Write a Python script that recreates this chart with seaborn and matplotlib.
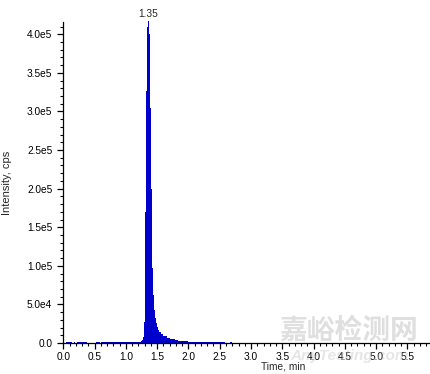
import matplotlib
matplotlib.use("Agg")
import matplotlib.pyplot as plt
import numpy as np
import pandas as pd
import seaborn as sns
from matplotlib.ticker import MultipleLocator, FuncFormatter

# ---- data: chromatogram bins (time, min) and intensity (cps) per bin ----
bin_edges = [0.000, 0.043, 0.139, 0.176, 0.190, 0.219, 0.379, 0.518, 0.587, 0.603,
             1.235, 1.251, 1.267, 1.283, 1.299, 1.315, 1.331, 1.347, 1.363, 1.379,
             1.395, 1.411, 1.427, 1.443, 1.459, 1.475, 1.491, 1.507, 1.523, 1.555,
             1.587, 1.651, 1.699, 1.779, 1.827, 1.987, 2.587, 2.667, 2.699, 5.860]
intensity = [0, 1500, 0, 1500, 0, 1500, 0, 1500, 0, 1500,
             2500, 4000, 8000, 27000, 170000, 326000, 410000, 417000, 400000,
             305000, 200000, 97000, 62000, 43000, 32000, 26000, 21000, 17000,
             14000, 12000, 9000, 6500, 5000, 4000, 3000, 1700, 0, 1500, 0]
peak_time = 1.35
peak_label = "1.35"
x_label = "Time, min"
y_label = "Intensity, cps"

edges = np.array(bin_edges)
mids = (edges[:-1] + edges[1:]) / 2
df = pd.DataFrame({"time": mids, "intensity": intensity})

sns.set_style("white")
plt.rcParams["font.family"] = ["Liberation Sans", "DejaVu Sans"]

W, H = 430, 374
fig = plt.figure(figsize=(W / 100, H / 100), dpi=100)
ax_l, ax_b, ax_t = 63.3, 343.0, 22.3
ax = fig.add_axes([ax_l / W, (H - ax_b) / H, (W - ax_l) / W, (ax_b - ax_t) / H])

blue = "#0000CD"
sns.histplot(data=df, x="time", weights="intensity", bins=list(bin_edges),
             element="step", fill=True, color=blue, alpha=1.0, linewidth=0, ax=ax)
for c in ax.collections:
    c.set_clip_on(False)

ax.set_xlim(0, 5.86)
ax.set_ylim(0, 415500)

for s in ["top", "right"]:
    ax.spines[s].set_visible(False)
for s in ["left", "bottom"]:
    ax.spines[s].set_color("black")
    ax.spines[s].set_linewidth(0.9)

def yfmt(v, pos):
    if abs(v) < 1e-9:
        return "0.0"
    e = int(np.floor(np.log10(abs(v))))
    m = v / 10 ** e
    return f"{m:.1f}e{e}"

ax.xaxis.set_major_locator(MultipleLocator(0.5))
ax.xaxis.set_minor_locator(MultipleLocator(0.1))
ax.xaxis.set_major_formatter(FuncFormatter(lambda v, p: f"{v:.1f}"))
ax.yaxis.set_major_locator(MultipleLocator(50000))
ax.yaxis.set_minor_locator(MultipleLocator(10000))
ax.yaxis.set_major_formatter(FuncFormatter(yfmt))

ax.tick_params(axis="both", which="major", direction="out", length=4, width=0.9,
               color="black", labelsize=7.3, labelcolor="black", left=True, bottom=True)
ax.tick_params(axis="both", which="minor", direction="out", length=2, width=0.8,
               color="black", left=True, bottom=True)
ax.tick_params(axis="y", which="major", pad=4)
ax.tick_params(axis="x", which="major", pad=2.5)

ax.set_xlabel(x_label, fontsize=7.3)
ax.xaxis.set_label_coords(0.599, -0.058)
ax.set_ylabel(y_label, fontsize=8, va="center")
ax.yaxis.set_label_coords(-0.153, 0.5)

peak_val = max(intensity)
ax.annotate(peak_label, xy=(peak_time, peak_val), xytext=(0, 1.5),
            textcoords="offset points", ha="center", va="bottom", fontsize=7.3,
            annotation_clip=False)

# watermark
fig.text(349 / W, 1 - 331 / H, "嘉峪检测网", fontsize=20, fontweight="bold",
         color="#b8b8b8", alpha=0.45, ha="center", va="center",
         family=["Noto Sans CJK SC", "DejaVu Sans"], zorder=10)
fig.text(349 / W, 1 - 356 / H, "AnyTesting.com", fontsize=11, fontweight="bold",
         style="italic", color="#c0c0c0", alpha=0.4, ha="center", va="center",
         zorder=10)

fig.savefig("out.png", dpi=100)
